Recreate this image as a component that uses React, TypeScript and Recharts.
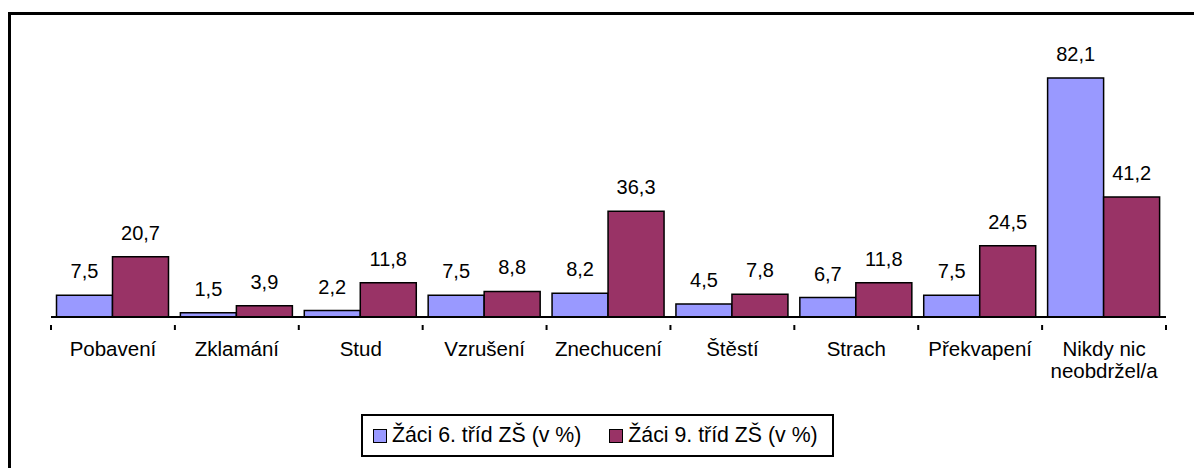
import React from 'react';
import { BarChart, Bar, XAxis, YAxis, LabelList } from 'recharts';

const CATEGORIES = ['Pobavení', 'Zklamání', 'Stud', 'Vzrušení', 'Znechucení', 'Štěstí', 'Strach', 'Překvapení', 'Nikdy nic\nneobdržel/a'];
const SIXTH = [7.5, 1.5, 2.2, 7.5, 8.2, 4.5, 6.7, 7.5, 82.1];
const NINTH = [20.7, 3.9, 11.8, 8.8, 36.3, 7.8, 11.8, 24.5, 41.2];
const SERIES_NAMES = ['Žáci 6. tříd ZŠ (v %)', 'Žáci 9. tříd ZŠ (v %)'];
const COLORS = ['#9999FF', '#993366'];

const FONT = '"Liberation Sans", Arial, sans-serif';

const data = CATEGORIES.map((name, i) => ({ name, sixth: SIXTH[i], ninth: NINTH[i] }));

const fmt = (v: unknown) => (typeof v === 'number' ? v.toFixed(1).replace('.', ',') : String(v ?? ''));

// label under the axis + boundary tick marks (Excel style, ticks between categories)
function CategoryTick(props: any) {
  const { x, y, payload, index } = props;
  const half = payload?.offset ?? 0;
  const lines = String(payload.value).split('\n');
  return (
    <g>
      <line x1={x - half} y1={y} x2={x - half} y2={y + 5} stroke="#000" strokeWidth={2} />
      {index === CATEGORIES.length - 1 && (
        <line x1={x + half} y1={y} x2={x + half} y2={y + 5} stroke="#000" strokeWidth={2} />
      )}
      <text x={x} y={y + 31} textAnchor="middle" fontSize={20.5} fontFamily={FONT} fill="#000">
        {lines.map((l, i) => (
          <tspan key={i} x={x} dy={i === 0 ? 0 : 22}>{l}</tspan>
        ))}
      </text>
    </g>
  );
}

export default function App() {
  return (
    <div style={{ position: 'relative', width: 1194, height: 460, fontFamily: FONT }}>
      <div style={{ position: 'absolute', left: 0, top: 4, right: -20, bottom: -20, borderLeft: '3px solid #000', borderTop: '3px solid #000' }} />
      <div style={{ position: 'absolute', left: 0, top: 0 }}>
        <BarChart
          width={1194}
          height={460}
          data={data}
          margin={{ top: 18, right: 36, left: 43, bottom: 91 }}
          barCategoryGap={5.5}
          barGap={0}
        >
          <XAxis
            dataKey="name"
            interval={0}
            height={60}
            tickLine={false}
            axisLine={{ stroke: '#000', strokeWidth: 2 }}
            tick={<CategoryTick />}
          />
          <YAxis hide domain={[0, 100]} />
          <Bar dataKey="sixth" name={SERIES_NAMES[0]} fill={COLORS[0]} stroke="#000" strokeWidth={1.5} isAnimationActive={false}>
            <LabelList dataKey="sixth" position="top" offset={17} formatter={fmt} fill="#000" fontSize={20} fontFamily={FONT} />
          </Bar>
          <Bar dataKey="ninth" name={SERIES_NAMES[1]} fill={COLORS[1]} stroke="#000" strokeWidth={1.5} isAnimationActive={false}>
            <LabelList dataKey="ninth" position="top" offset={17} formatter={fmt} fill="#000" fontSize={20} fontFamily={FONT} />
          </Bar>
        </BarChart>
      </div>
      <div
        style={{
          position: 'absolute', left: 353, top: 406, width: 473, height: 43, boxSizing: 'border-box',
          border: '2px solid #000', display: 'flex', alignItems: 'center', paddingLeft: 10, fontSize: 21.3, color: '#000',
        }}
      >
        {SERIES_NAMES.map((n, i) => (
          <div key={n} style={{ display: 'flex', alignItems: 'center', marginRight: i === 0 ? 28 : 0 }}>
            <span style={{ width: 12, height: 12, background: COLORS[i], border: '1.5px solid #000', marginRight: 5, display: 'inline-block' }} />
            <span>{n}</span>
          </div>
        ))}
      </div>
    </div>
  );
}
